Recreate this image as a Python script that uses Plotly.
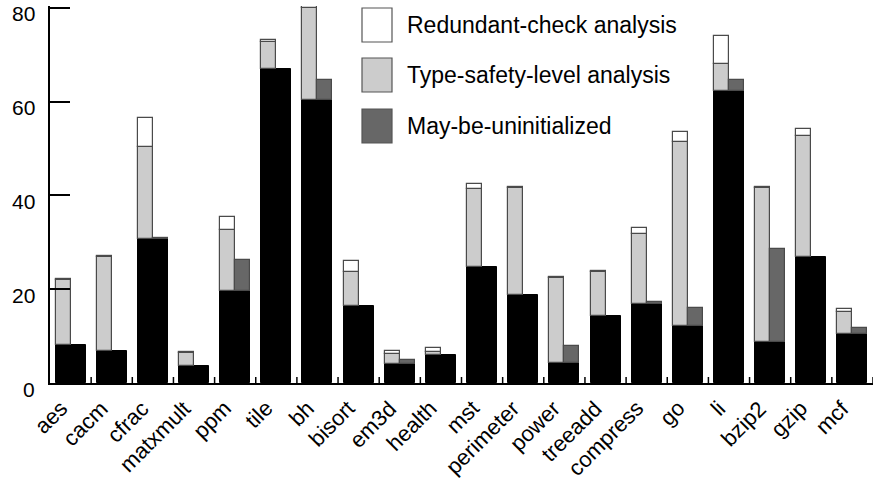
import plotly.graph_objects as go

categories = ["aes", "cacm", "cfrac", "matxmult", "ppm", "tile", "bh", "bisort", "em3d",
              "health", "mst", "perimeter", "power", "treeadd", "compress", "go", "li",
              "bzip2", "gzip", "mcf"]
# base (black) bar values
base_vals = [8.0, 6.8, 30.7, 3.6, 19.7, 66.9, 60.3, 16.5, 4.1, 5.9,
             24.7, 18.8, 4.2, 14.3, 16.8, 12.1, 62.3, 8.8, 26.8, 10.5]
# Type-safety-level analysis (increment over base)
type_safety = [13.9, 20.1, 19.7, 2.9, 13.0, 5.9, 19.7, 7.2, 2.1, 0.8,
               16.6, 22.8, 18.2, 9.4, 14.9, 39.3, 5.7, 32.7, 25.9, 4.7]
# Redundant-check analysis (increment over type-safety)
redundant = [0.2, 0.2, 6.1, 0.2, 2.6, 0.3, 0.3, 2.4, 0.7, 0.7,
             1.2, 0.3, 0.3, 0.2, 1.3, 2.1, 6.1, 0.2, 1.5, 0.6]
# May-be-uninitialized (increment over base)
may_uninit = [0.0, 0.0, 0.2, 0.0, 6.6, 0.0, 4.4, 0.0, 0.9, 0.0,
              0.0, 0.0, 3.7, 0.0, 0.5, 4.0, 2.3, 19.8, 0.0, 1.2]

legend_labels = ["Redundant-check analysis", "Type-safety-level analysis", "May-be-uninitialized"]
y_ticks = [0, 20, 40, 60, 80]

LIGHT = "#cccccc"
DARK = "#676767"
EDGE = "#4a4a4a"
FONT = "Liberation Sans, Arial, sans-serif"

L, R, T, B = 50, 1, 6, 100
PW, PH = 874 - L - R, 483 - T - B

x = list(range(len(categories)))
ts_top = [b + t for b, t in zip(base_vals, type_safety)]

fig = go.Figure()
fig.add_trace(go.Bar(x=x, y=base_vals, base=0, width=0.73, offset=-0.365,
                     marker=dict(color="black", line=dict(color="black", width=1)),
                     showlegend=False))
fig.add_trace(go.Bar(x=x, y=type_safety, base=base_vals, width=0.365, offset=-0.365,
                     marker=dict(color=LIGHT, line=dict(color=EDGE, width=1.2)),
                     showlegend=False))
fig.add_trace(go.Bar(x=x, y=redundant, base=ts_top, width=0.365, offset=-0.365,
                     marker=dict(color="white", line=dict(color=EDGE, width=1.2)),
                     showlegend=False))
mu_x = [xi for xi, m in zip(x, may_uninit) if m > 0]
mu_v = [m for m in may_uninit if m > 0]
mu_b = [b for b, m in zip(base_vals, may_uninit) if m > 0]
fig.add_trace(go.Bar(x=mu_x, y=mu_v, base=mu_b, width=0.365, offset=0.0,
                     marker=dict(color=DARK, line=dict(color=EDGE, width=1.2)),
                     showlegend=False))

# category boundary ticks on the x axis (pointing inward)
for k in range(1, len(categories) + 1):
    fig.add_shape(type="line", xref="x", yref="paper", x0=k - 0.5, x1=k - 0.5,
                  y0=0, y1=6 / PH, line=dict(color="black", width=1.5))

# y tick labels (placed just below their tick, as in the original)
for v in y_ticks:
    fig.add_annotation(xref="paper", yref="y", x=0, y=v, text=str(v), showarrow=False,
                       xanchor="right", yanchor="middle", xshift=-13, yshift=-6,
                       font=dict(family=FONT, size=21, color="black"))

# x category labels, rotated 45 degrees, right end at the category centre
for xi, lab in zip(x, categories):
    fig.add_annotation(xref="x", yref="paper", x=xi, y=0, text=lab, showarrow=False,
                       textangle=-45, xanchor="right", yanchor="top",
                       xshift=4, yshift=-10,
                       font=dict(family=FONT, size=22, color="black"))

# custom legend
legend_fills = ["white", LIGHT, DARK]
box_top = [8, 58, 109]
for lab, fill, t in zip(legend_labels, legend_fills, box_top):
    fig.add_shape(type="rect", xref="paper", yref="paper",
                  x0=(362 - L) / PW, x1=(392 - L) / PW,
                  y0=(483 - B - (t + 34)) / PH, y1=(483 - B - t) / PH,
                  fillcolor=fill, line=dict(color="#555555", width=1.2))
    fig.add_annotation(xref="paper", yref="paper", x=(405 - L) / PW,
                       y=(483 - B - (t + 17)) / PH, text=lab, showarrow=False,
                       xanchor="left", yanchor="middle",
                       font=dict(family=FONT, size=23, color="black"))

fig.update_layout(
    width=874, height=483,
    margin=dict(l=L, r=R, t=T, b=B),
    barmode="overlay",
    bargap=0,
    plot_bgcolor="white", paper_bgcolor="white",
    font=dict(family=FONT, size=21, color="black"),
)
fig.update_xaxes(range=[-0.5, 19.5], tickmode="array", tickvals=x,
                 showticklabels=False, ticks="", showline=True, linecolor="black",
                 linewidth=2, showgrid=False, zeroline=False, automargin=False)
fig.update_yaxes(range=[0, 80.4], tickmode="array", tickvals=y_ticks,
                 ticks="inside", ticklen=20, tickwidth=1.5, tickcolor="black",
                 showline=True, linecolor="black", linewidth=1.5, automargin=False,
                 showgrid=False, zeroline=False, showticklabels=False)

fig.write_html("out.html", config={"displayModeBar": False},
               post_script="document.body.style.margin='0';document.body.style.overflow='hidden';")
